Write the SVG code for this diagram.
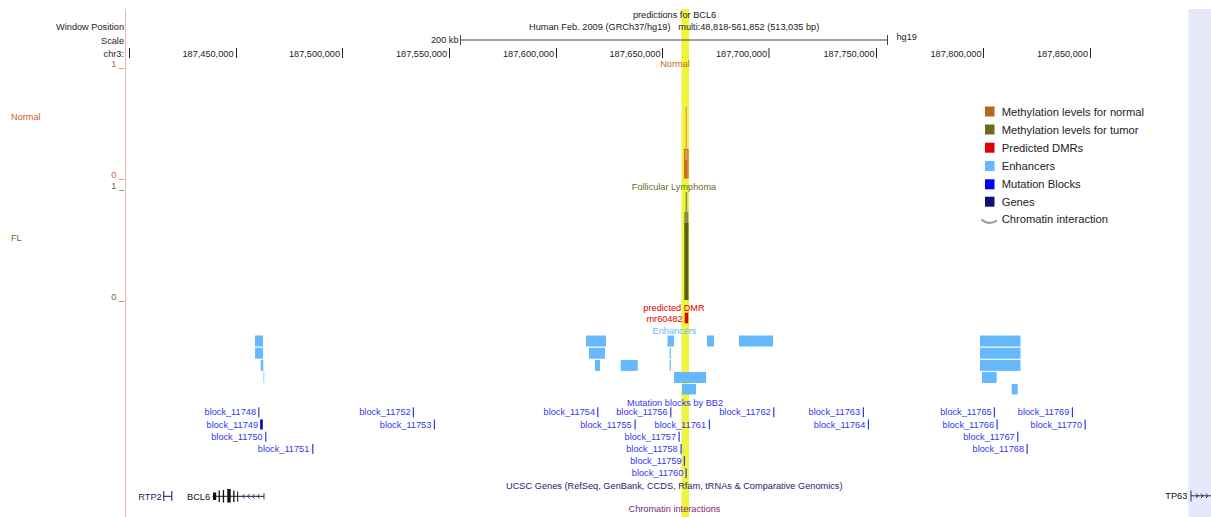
<svg xmlns="http://www.w3.org/2000/svg" width="1211" height="517" viewBox="0 0 1211 517">
<style>
text{font-family:"Liberation Sans",Arial,sans-serif;font-size:9.2px;fill:#222}
.hdr{fill:#1a1a1a}
.or{fill:#c8641c}
.ol{fill:#6b6b1e}
.blk{fill:#3434ee}
.bar{fill:#3434ee}
.enh{fill:#66b8ff}
.leg{font-size:11.2px;fill:#222}
.tick{stroke:#222;stroke-width:1}
.gene{stroke:#15154a;stroke-width:1;fill:none}
</style>
<rect x="0" y="0" width="1211" height="517" fill="#ffffff"/>
<!-- background regions -->
<g id="background">
<rect x="1188.5" y="9" width="22.5" height="508" fill="#e8e8fb"/>
<line x1="125.5" y1="9" x2="125.5" y2="517" stroke="#f0b8b8" stroke-width="1"/>
<rect x="681.5" y="9" width="7.5" height="508" fill="#eef53c"/>
</g>
<!-- header -->
<g id="header">
<text x="674.5" y="18.3" text-anchor="middle" class="hdr">predictions for BCL6</text>
<text x="529" y="29.5" class="hdr" textLength="141.5" lengthAdjust="spacingAndGlyphs">Human Feb. 2009 (GRCh37/hg19)</text>
<text x="678.3" y="29.5" class="hdr" textLength="141" lengthAdjust="spacingAndGlyphs">multi:48,818-561,852 (513,035 bp)</text>
<text x="124" y="30" text-anchor="end">Window Position</text>
<text x="124" y="44" text-anchor="end">Scale</text>
<text x="124" y="56.5" text-anchor="end">chr3:</text>
<text x="458.5" y="43.3" text-anchor="end">200 kb</text>
<line x1="460.5" y1="40" x2="887.5" y2="40" stroke="#444" stroke-width="1"/>
<line x1="460.5" y1="35" x2="460.5" y2="45" stroke="#444" stroke-width="1"/>
<line x1="887.5" y1="35" x2="887.5" y2="45" stroke="#444" stroke-width="1"/>
<text x="896.5" y="40">hg19</text>
<g id="ruler">
<line class="tick" x1="129.5" y1="48" x2="129.5" y2="58"/>
<text x="233.5" y="56.5" text-anchor="end">187,450,000</text><line class="tick" x1="236.5" y1="48" x2="236.5" y2="58"/>
<text x="340" y="56.5" text-anchor="end">187,500,000</text><line class="tick" x1="342.5" y1="48" x2="342.5" y2="58"/>
<text x="447" y="56.5" text-anchor="end">187,550,000</text><line class="tick" x1="449.5" y1="48" x2="449.5" y2="58"/>
<text x="554" y="56.5" text-anchor="end">187,600,000</text><line class="tick" x1="556.5" y1="48" x2="556.5" y2="58"/>
<text x="660.5" y="56.5" text-anchor="end">187,650,000</text><line class="tick" x1="662.5" y1="48" x2="662.5" y2="58"/>
<text x="767" y="56.5" text-anchor="end">187,700,000</text><line class="tick" x1="769" y1="48" x2="769" y2="58"/>
<text x="874.5" y="56.5" text-anchor="end">187,750,000</text><line class="tick" x1="876.5" y1="48" x2="876.5" y2="58"/>
<text x="981.5" y="56.5" text-anchor="end">187,800,000</text><line class="tick" x1="983.5" y1="48" x2="983.5" y2="58"/>
<text x="1088" y="56.5" text-anchor="end">187,850,000</text><line class="tick" x1="1090.5" y1="48" x2="1090.5" y2="58"/>
</g>
</g>
<!-- Normal methylation track -->
<g id="track-normal">
<text x="124" y="67" text-anchor="end" class="or">1 _</text>
<text x="675" y="66.8" text-anchor="middle" class="or">Normal</text>
<text x="11" y="119.5" class="or">Normal</text>
<text x="124" y="177.5" text-anchor="end" class="or">0 _</text>
<rect x="685.6" y="106.5" width="1.4" height="72" fill="#e0a060"/>
<rect x="684.3" y="149.5" width="3.8" height="28.5" fill="#e39a4c" stroke="#c0601a" stroke-width="0.8"/>
<rect x="685.2" y="160" width="1.6" height="18" fill="#c0601a"/>
</g>
<!-- Tumor methylation track -->
<g id="track-fl">
<text x="124" y="189" text-anchor="end" class="ol">1 _</text>
<text x="674" y="189.5" text-anchor="middle" class="ol">Follicular Lymphoma</text>
<text x="11" y="240.5" class="ol">FL</text>
<text x="124" y="299.5" text-anchor="end" class="ol">0 _</text>
<rect x="685.6" y="192" width="1.6" height="30" fill="#8c8c50"/>
<rect x="684.3" y="212" width="4" height="14" fill="#8a8a45"/>
<rect x="684.3" y="223" width="4.2" height="77" fill="#5e5e14"/>
</g>
<!-- DMR track -->
<g id="track-dmr">
<text x="674" y="310.5" text-anchor="middle" fill="#e00000" style="fill:#e00000">predicted DMR</text>
<text x="682.7" y="321.5" text-anchor="end" style="fill:#e00000">mr60482</text>
<rect x="684.7" y="312.7" width="3.6" height="10.6" fill="#e00000"/>
</g>
<!-- Enhancers track -->
<g id="track-enhancers">
<text x="674.5" y="334" text-anchor="middle" style="fill:#66b8ff">Enhancers</text>
<rect class="enh" x="255" y="335.5" width="8" height="11"/>
<rect class="enh" x="586" y="335.5" width="20" height="11"/>
<rect class="enh" x="667.5" y="335.5" width="6.5" height="11"/>
<rect class="enh" x="707" y="335.5" width="7" height="11"/>
<rect class="enh" x="739" y="335.5" width="34" height="11"/>
<rect class="enh" x="980" y="335.5" width="40.5" height="11"/>
<rect class="enh" x="255" y="347.7" width="8" height="11"/>
<rect class="enh" x="589" y="347.7" width="16" height="11"/>
<rect class="enh" x="669.6" y="347.7" width="1.2" height="11"/>
<rect class="enh" x="980" y="347.7" width="40.5" height="11"/>
<rect class="enh" x="260.7" y="359.9" width="2.6" height="11"/>
<rect class="enh" x="595" y="359.9" width="5" height="11"/>
<rect class="enh" x="620.7" y="359.9" width="17" height="11"/>
<rect class="enh" x="669.6" y="359.9" width="1.2" height="11"/>
<rect class="enh" x="980" y="359.9" width="40.5" height="11"/>
<rect x="263.3" y="372" width="1" height="11" fill="#9fd0ff"/>
<rect class="enh" x="674" y="372" width="32" height="11"/>
<rect class="enh" x="982" y="372" width="14.7" height="11"/>
<rect class="enh" x="682" y="384" width="14" height="10.5"/>
<rect class="enh" x="1011.7" y="384" width="6" height="10.5"/>
</g>
<!-- Mutation blocks track -->
<g id="track-blocks">
<text x="675" y="405.5" text-anchor="middle" class="blk">Mutation blocks by BB2</text>
<g id="block_11748"><text x="256" y="415.3" text-anchor="end" class="blk">block_11748</text><rect class="bar" x="258.2" y="407.3" width="1.2" height="10"/></g>
<g id="block_11749"><text x="258" y="427.5" text-anchor="end" class="blk">block_11749</text><rect x="260.2" y="419.5" width="2.6" height="10" fill="#0000c8"/></g>
<g id="block_11750"><text x="262.7" y="439.7" text-anchor="end" class="blk">block_11750</text><rect class="bar" x="265.2" y="431.7" width="1.2" height="10"/></g>
<g id="block_11751"><text x="309.3" y="451.9" text-anchor="end" class="blk">block_11751</text><rect class="bar" x="312.2" y="443.9" width="1.2" height="10"/></g>
<g id="block_11752"><text x="410.7" y="415.3" text-anchor="end" class="blk">block_11752</text><rect class="bar" x="412.8" y="407.3" width="1.2" height="10"/></g>
<g id="block_11753"><text x="431.3" y="427.5" text-anchor="end" class="blk">block_11753</text><rect class="bar" x="433.8" y="419.5" width="1.2" height="10"/></g>
<g id="block_11754"><text x="595" y="415.3" text-anchor="end" class="blk">block_11754</text><rect class="bar" x="597.2" y="407.3" width="1.2" height="10"/></g>
<g id="block_11755"><text x="631.7" y="427.5" text-anchor="end" class="blk">block_11755</text><rect class="bar" x="634.5" y="419.5" width="1.2" height="10"/></g>
<g id="block_11756"><text x="667.7" y="415.3" text-anchor="end" class="blk">block_11756</text><rect class="bar" x="670.2" y="407.3" width="1.2" height="10"/></g>
<g id="block_11757"><text x="676" y="439.7" text-anchor="end" class="blk">block_11757</text><rect class="bar" x="678.5" y="431.7" width="1.2" height="10"/></g>
<g id="block_11758"><text x="677.7" y="451.9" text-anchor="end" class="blk">block_11758</text><rect class="bar" x="680.5" y="443.9" width="1.2" height="10"/></g>
<g id="block_11759"><text x="681.7" y="464.1" text-anchor="end" class="blk">block_11759</text><rect class="bar" x="683.8" y="456.1" width="1.2" height="10"/></g>
<g id="block_11760"><text x="683.3" y="476.3" text-anchor="end" class="blk">block_11760</text><rect class="bar" x="685.5" y="468.3" width="1.2" height="10"/></g>
<g id="block_11761"><text x="706" y="427.5" text-anchor="end" class="blk">block_11761</text><rect class="bar" x="708.8" y="419.5" width="1.2" height="10"/></g>
<g id="block_11762"><text x="770.7" y="415.3" text-anchor="end" class="blk">block_11762</text><rect class="bar" x="773.2" y="407.3" width="1.2" height="10"/></g>
<g id="block_11763"><text x="860" y="415.3" text-anchor="end" class="blk">block_11763</text><rect class="bar" x="862.8" y="407.3" width="1.2" height="10"/></g>
<g id="block_11764"><text x="865.3" y="427.5" text-anchor="end" class="blk">block_11764</text><rect class="bar" x="867.8" y="419.5" width="1.2" height="10"/></g>
<g id="block_11765"><text x="991.7" y="415.3" text-anchor="end" class="blk">block_11765</text><rect class="bar" x="993.8" y="407.3" width="1.2" height="10"/></g>
<g id="block_11766"><text x="994" y="427.5" text-anchor="end" class="blk">block_11766</text><rect class="bar" x="996.5" y="419.5" width="1.2" height="10"/></g>
<g id="block_11767"><text x="1014.7" y="439.7" text-anchor="end" class="blk">block_11767</text><rect class="bar" x="1017.2" y="431.7" width="1.2" height="10"/></g>
<g id="block_11768"><text x="1024" y="451.9" text-anchor="end" class="blk">block_11768</text><rect class="bar" x="1026.5" y="443.9" width="1.2" height="10"/></g>
<g id="block_11769"><text x="1069.3" y="415.3" text-anchor="end" class="blk">block_11769</text><rect class="bar" x="1071.8" y="407.3" width="1.2" height="10"/></g>
<g id="block_11770"><text x="1082" y="427.5" text-anchor="end" class="blk">block_11770</text><rect class="bar" x="1084.5" y="419.5" width="1.2" height="10"/></g>
</g>
<!-- Genes track -->
<g id="track-genes">
<text x="674.3" y="489" text-anchor="middle" style="fill:#1c1c6a" textLength="336.5" lengthAdjust="spacingAndGlyphs">UCSC Genes (RefSeq, GenBank, CCDS, Rfam, tRNAs &amp; Comparative Genomics)</text>
<g id="gene-RTP2">
<text x="161.7" y="499.5" text-anchor="end" style="fill:#1c1c6a">RTP2</text>
<path class="gene" d="M163.8,491 V501 M171.8,491 V501 M163.8,496.3 H171.8"/>
</g>
<g id="gene-BCL6">
<text x="210" y="499.5" text-anchor="end" style="fill:#111">BCL6</text>
<path d="M212.5,496.3 H264" stroke="#15154a" stroke-width="1"/>
<rect x="213" y="492.5" width="3.2" height="7.5" fill="#111"/>
<rect x="218.6" y="490.5" width="1.3" height="11.5" fill="#111"/>
<rect x="222.8" y="490" width="1.3" height="12.5" fill="#111"/>
<rect x="227.3" y="489" width="3.4" height="13.5" fill="#111"/>
<rect x="233.2" y="490.5" width="1.3" height="11.5" fill="#111"/>
<rect x="237" y="491.5" width="1.2" height="10" fill="#333"/>
<path d="M244.5,494 L242.5,496.3 L244.5,498.6 M249.5,494 L247.5,496.3 L249.5,498.6 M254.5,494 L252.5,496.3 L254.5,498.6 M259.5,494 L257.5,496.3 L259.5,498.6 M264,493 V499.5" stroke="#15154a" stroke-width="0.8" fill="none"/>
</g>
<g id="gene-TP63">
<text x="1187.3" y="499" text-anchor="end" style="fill:#111">TP63</text>
<path d="M1191,490.5 V501.5 M1191,495.8 H1211 M1196,493.6 L1198,495.8 L1196,498 M1201,493.6 L1203,495.8 L1201,498 M1206,493.6 L1208,495.8 L1206,498" stroke="#15154a" stroke-width="0.9" fill="none"/>
</g>
</g>
<!-- Chromatin interactions track -->
<g id="track-chromatin">
<text x="674.5" y="511.5" text-anchor="middle" style="fill:#7a1f7a">Chromatin interactions</text>
</g>
<!-- Legend -->
<g id="legend">
<rect x="985" y="106.5" width="9.5" height="10" fill="#b8651e"/>
<text x="1001.7" y="115.6" class="leg">Methylation levels for normal</text>
<rect x="985" y="124.5" width="9.5" height="10" fill="#6b6b1a"/>
<text x="1001.7" y="133.6" class="leg">Methylation levels for tumor</text>
<rect x="985" y="142.7" width="9.5" height="10" fill="#e00000"/>
<text x="1001.7" y="151.8" class="leg">Predicted DMRs</text>
<rect x="985" y="161" width="9.5" height="10" fill="#66b8ff"/>
<text x="1001.7" y="170.1" class="leg">Enhancers</text>
<rect x="985" y="179.3" width="9.5" height="10" fill="#0000ff"/>
<text x="1001.7" y="188.4" class="leg">Mutation Blocks</text>
<rect x="985" y="196.7" width="9.5" height="10" fill="#101070"/>
<text x="1001.7" y="205.8" class="leg">Genes</text>
<path d="M981.5,219.5 Q989,226 997,220.5" stroke="#999" stroke-width="2" fill="none"/>
<text x="1001.7" y="223" class="leg">Chromatin interaction</text>
</g>
<g id="connectors"/>
</svg>
